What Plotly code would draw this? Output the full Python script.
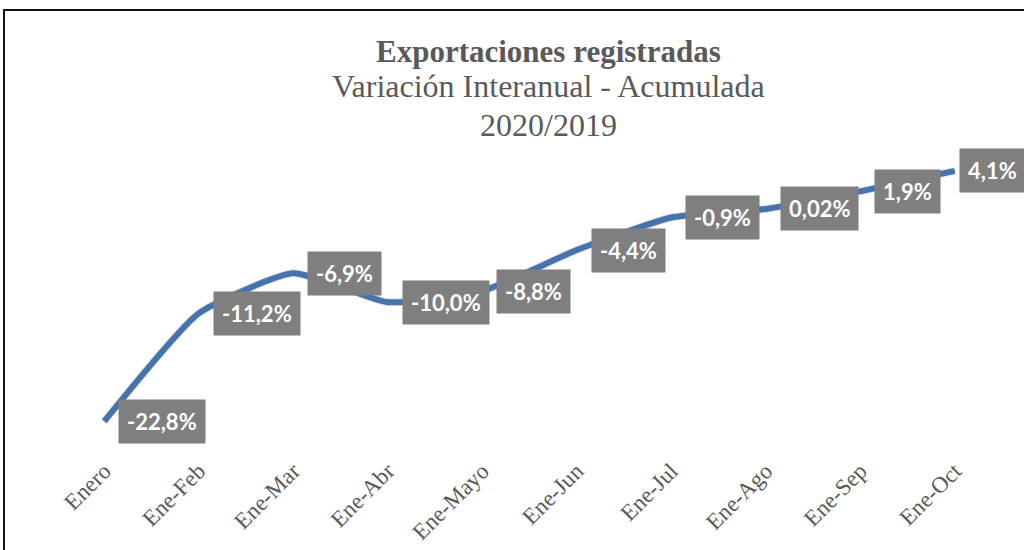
import plotly.graph_objects as go

categories = ["Enero", "Ene-Feb", "Ene-Mar", "Ene-Abr", "Ene-Mayo",
              "Ene-Jun", "Ene-Jul", "Ene-Ago", "Ene-Sep", "Ene-Oct"]
values = [-22.8, -11.2, -6.9, -10.0, -8.8, -4.4, -0.9, 0.02, 1.9, 4.1]
labels = ["-22,8%", "-11,2%", "-6,9%", "-10,0%", "-8,8%",
          "-4,4%", "-0,9%", "0,02%", "1,9%", "4,1%"]
title_main = "Exportaciones registradas"
title_sub = "Variación Interanual - Acumulada"
title_period = "2020/2019"

W, H = 1024, 550
L, R, T, B = 57, 20, 150, 95
pw = W - L - R
ph = H - T - B


def px_x(p):
    return (p - L) / pw


def px_y(p):
    return (H - B - p) / ph


yrange = [-26.1, 6.35]
xrange = [-0.5, 9.5]

fig = go.Figure()
# soft shadow (same data drawn on a slightly offset axis pair)
fig.add_trace(go.Scatter(
    x=categories, y=values, mode="lines", xaxis="x2", yaxis="y2",
    line=dict(color="rgba(0,0,0,0.10)", width=8, shape="spline", smoothing=0.5),
    hoverinfo="skip", showlegend=False))
fig.add_trace(go.Scatter(
    x=categories, y=values, mode="lines",
    line=dict(color="#4E80C2", width=6, shape="spline", smoothing=0.5),
    showlegend=False))

ann = []
for i, (c, v, t) in enumerate(zip(categories, values, labels)):
    ann.append(dict(
        x=c, y=v, xref="x", yref="y", text=t, showarrow=False,
        xanchor="left", yanchor="middle", xshift=4 if i == len(values) - 1 else 14,
        bgcolor="#7F7F7F", borderpad=8,
        font=dict(family="Lato", size=22, color="white", weight="bold")))

cx = px_x(548)
ann.append(dict(x=cx, y=px_y(51), xref="paper", yref="paper", showarrow=False,
                text="<b>" + title_main + "</b>", xanchor="center", yanchor="middle",
                font=dict(family="Liberation Serif", size=31, color="#595959")))
ann.append(dict(x=cx, y=px_y(86), xref="paper", yref="paper", showarrow=False,
                text=title_sub, xanchor="center", yanchor="middle",
                font=dict(family="Liberation Serif", size=32, color="#595959")))
ann.append(dict(x=cx, y=px_y(125), xref="paper", yref="paper", showarrow=False,
                text=title_period, xanchor="center", yanchor="middle",
                font=dict(family="Liberation Serif", size=32, color="#595959")))

fig.update_layout(
    width=W, height=H, margin=dict(l=L, r=R, t=T, b=B, autoexpand=False),
    paper_bgcolor="white", plot_bgcolor="white",
    xaxis=dict(type="category", range=xrange, domain=[0, 1 - 2 / pw], automargin=False,
               showgrid=False, zeroline=False, showline=False, ticks="",
               tickangle=-45, tickfont=dict(family="Liberation Serif", size=23, color="#595959")),
    yaxis=dict(range=yrange, domain=[3 / ph, 1], visible=False, automargin=False),
    xaxis2=dict(type="category", range=xrange, domain=[2 / pw, 1], overlaying="x",
                visible=False, anchor="y2"),
    yaxis2=dict(range=yrange, domain=[0, 1 - 3 / ph], overlaying="y", visible=False, anchor="x2"),
    annotations=ann,
    shapes=[dict(type="rect", xref="paper", yref="paper",
                 x0=px_x(4), x1=px_x(1120), y0=px_y(10), y1=px_y(600),
                 line=dict(color="#111111", width=2), fillcolor="rgba(0,0,0,0)")],
)

fig.write_html("out.html")
